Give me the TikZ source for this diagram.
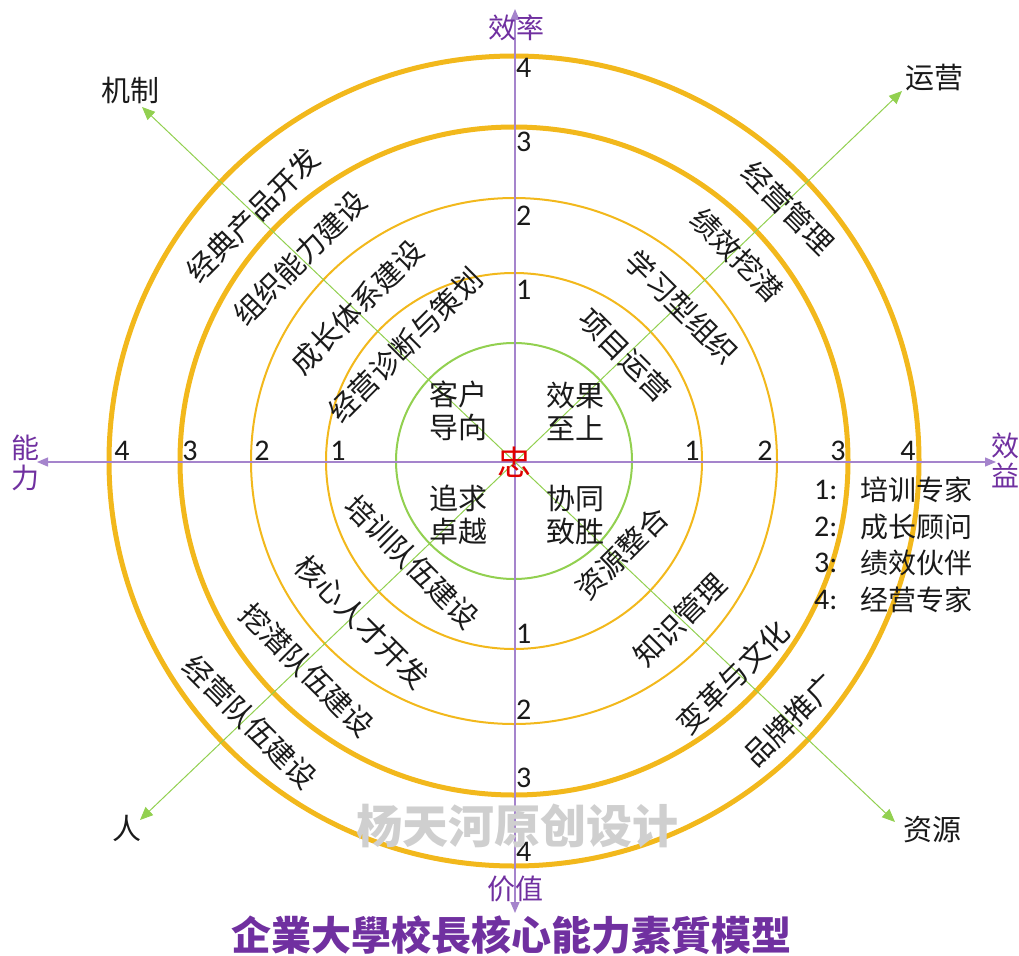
\documentclass[tikz,border=0pt]{standalone}
\usepackage{fontspec}
\setmainfont{Carlito}
\newfontfamily\cjk{Noto Sans CJK SC}
\usetikzlibrary{arrows.meta}
\definecolor{ringgold}{HTML}{F2B81C}
\definecolor{ringgreen}{HTML}{92D050}
\definecolor{axispurple}{HTML}{A584CC}
\definecolor{labelpurple}{HTML}{7030A0}
\definecolor{txt}{HTML}{1A1A1A}
\definecolor{zhongred}{HTML}{E00000}
\tikzset{
  ringtxt/.style={font=\cjk\fontsize{29}{34}\selectfont, text=txt, inner sep=0pt},
  quad/.style={font=\cjk\fontsize{29}{33}\selectfont, align=center, text=txt, inner sep=0pt},
  num/.style={font=\fontsize{30}{32}\selectfont, text=txt, inner sep=0pt},
  axlab/.style={font=\cjk\fontsize{28}{30}\selectfont, text=labelpurple, align=center, inner sep=0pt},
  dirlab/.style={font=\cjk\fontsize{29}{34}\selectfont, text=txt, inner sep=0pt},
  legnum/.style={font=\fontsize{30}{32}\selectfont, text=txt, inner sep=0pt, anchor=west},
  legtxt/.style={font=\cjk\fontsize{28}{30}\selectfont, text=txt, inner sep=0pt, anchor=west},
  thickring/.style={draw=ringgold, line width=5pt},
  thinring/.style={draw=ringgold, line width=2pt},
  greenring/.style={draw=ringgreen, line width=2pt},
  axisarrow/.style={draw=axispurple, line width=1.3pt, -{Triangle[length=11pt,width=9pt]}},
  diagarrow/.style={draw=ringgreen, line width=1pt, -{Triangle[length=13pt,width=11pt]}},
}
\begin{document}
\begin{tikzpicture}[x=1pt,y=-1pt]
\useasboundingbox (0,0) rectangle (1019,955);
\coordinate (O) at (514,461);
% rings
\draw[thickring] (O) circle[radius=405pt];
\draw[thickring] (O) circle[radius=334pt];
\draw[thinring] (O) circle[radius=263pt];
\draw[thinring] (O) circle[radius=188pt];
\draw[greenring] (O) circle[radius=118pt];
% axes
\coordinate (C) at (515,462);
\coordinate (Atop) at (515,9);
\coordinate (Abot) at (515,913);
\coordinate (Aleft) at (37,462);
\coordinate (Aright) at (996,462);
\draw[axisarrow] (C) -- (Atop);
\draw[axisarrow] (C) -- (Abot);
\draw[axisarrow] (C) -- (Aleft);
\draw[axisarrow] (C) -- (Aright);
% diagonals
\coordinate (Dul) at (142,107);
\coordinate (Dur) at (902,91);
\coordinate (Dll) at (140,820);
\coordinate (Dlr) at (895,822);
\draw[diagarrow] (C) -- (Dul);
\draw[diagarrow] (C) -- (Dur);
\draw[diagarrow] (C) -- (Dll);
\draw[diagarrow] (C) -- (Dlr);
% axis labels
\node[axlab] (lxl) at (516,28) {效率};
\node[axlab] (ljz) at (515,889) {价值};
\node[axlab] (lnl) at (25,463) {能\\力};
\node[axlab] (lxy) at (1005,460) {效\\益};
% direction labels
\node[dirlab] (ljk) at (130,90) {机制};
\node[dirlab] (lyy) at (934,78) {运营};
\node[dirlab] (lr) at (127,828) {人};
\node[dirlab] (lzy) at (932,830) {资源};
% axis numbers
\node[num, anchor=west] (nt4) at (516,68) {4};
\node[num, anchor=west] (nt3) at (516,142) {3};
\node[num, anchor=west] (nt2) at (516,216) {2};
\node[num, anchor=west] (nt1) at (516,290) {1};
\node[num, anchor=west] (nb1) at (516,634) {1};
\node[num, anchor=west] (nb2) at (516,710) {2};
\node[num, anchor=west] (nb3) at (516,778) {3};
\node[num, anchor=west] (nb4) at (516,852) {4};
\node[num, anchor=south] (nl4) at (122,461) {4};
\node[num, anchor=south] (nl3) at (190,461) {3};
\node[num, anchor=south] (nl2) at (262,461) {2};
\node[num, anchor=south] (nl1) at (338,461) {1};
\node[num, anchor=south] (nr1) at (692,461) {1};
\node[num, anchor=south] (nr2) at (765,461) {2};
\node[num, anchor=south] (nr3) at (838,461) {3};
\node[num, anchor=south] (nr4) at (908,461) {4};
% ring texts upper-left
\node[ringtxt, rotate=45] (t1) at (253,215) {经典产品开发};
\node[ringtxt, rotate=45] (t2) at (300,258) {组织能力建设};
\node[ringtxt, rotate=45] (t3) at (357,307) {成长体系建设};
\node[ringtxt, rotate=45] (t4) at (405,345) {经营诊断与策划};
% upper-right
\node[ringtxt, rotate=-45] (t5) at (788,208) {经营管理};
\node[ringtxt, rotate=-45] (t6) at (737,255) {绩效挖潜};
\node[ringtxt, rotate=-45] (t7) at (682,307) {学习型组织};
\node[ringtxt, rotate=-45] (t8) at (625,355) {项目运营};
% lower-left
\node[ringtxt, rotate=-45] (t9) at (412,562) {培训队伍建设};
\node[ringtxt, rotate=-45] (t10) at (362,622) {核心人才开发};
\node[ringtxt, rotate=-45] (t11) at (307,670) {挖潜队伍建设};
\node[ringtxt, rotate=-45] (t12) at (250,722) {经营队伍建设};
% lower-right
\node[ringtxt, rotate=45] (t13) at (622,553) {资源整合};
\node[ringtxt, rotate=45] (t14) at (680,620) {知识管理};
\node[ringtxt, rotate=45] (t15) at (733,677) {变革与文化};
\node[ringtxt, rotate=45] (t16) at (790,720) {品牌推广};
% center
\node[quad] (q1) at (458,411) {客户\\导向};
\node[quad] (q2) at (575,411) {效果\\至上};
\node[quad] (q3) at (458,515) {追求\\卓越};
\node[quad] (q4) at (575,515) {协同\\致胜};
\node[font=\cjk\fontsize{34}{36}\selectfont, text=zhongred, inner sep=0pt] (zh) at (514,462) {忠};
% legend
\node[legnum] (g1n) at (814,490) {1:};
\node[legtxt] (g1t) at (860,490) {培训专家};
\node[legnum] (g2n) at (814,527) {2:};
\node[legtxt] (g2t) at (860,527) {成长顾问};
\node[legnum] (g3n) at (814,563) {3:};
\node[legtxt] (g3t) at (860,563) {绩效伙伴};
\node[legnum] (g4n) at (814,600) {4:};
\node[legtxt] (g4t) at (860,600) {经营专家};
% watermark
\node[font=\cjk\bfseries\fontsize{46}{50}\selectfont, text=gray!38, inner sep=0pt] (wm) at (517,826) {杨天河原创设计};
% title
\node[font=\cjk\bfseries\fontsize{40}{44}\selectfont, text=labelpurple, inner sep=0pt] (title) at (511,935) {企業大學校長核心能力素質模型};
\end{tikzpicture}
\end{document}
